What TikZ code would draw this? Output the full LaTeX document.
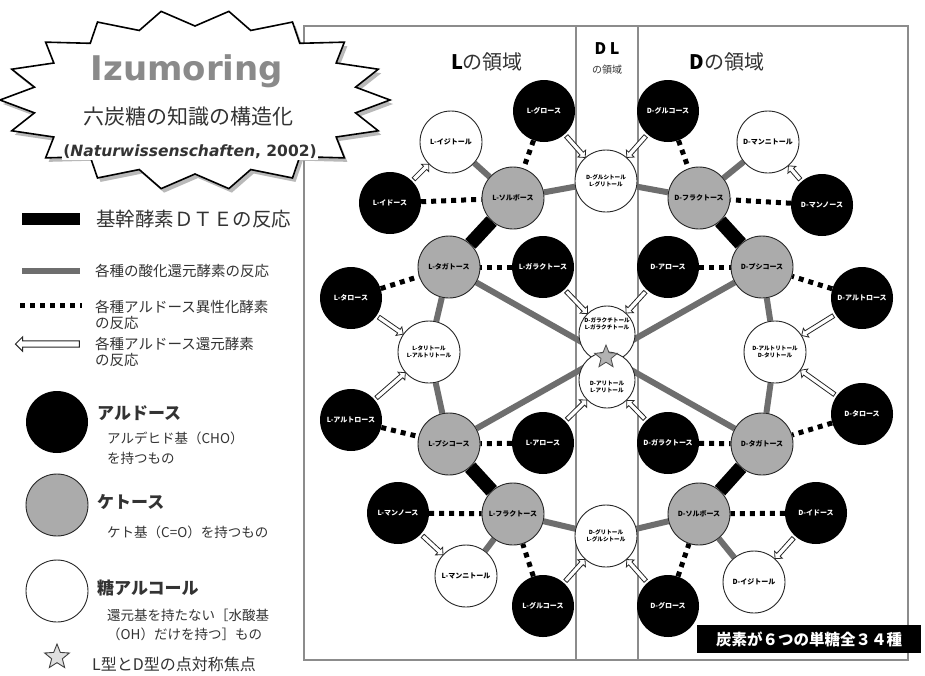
\documentclass[tikz,border=0pt]{standalone}
\usepackage{fontspec}
\setmainfont{Noto Sans CJK JP}
\newfontfamily\dvs{DejaVu Sans}
\usetikzlibrary{shapes.geometric,shapes.arrows,calc}
\pgfdeclarelayer{bg}
\pgfsetlayers{bg,main}
\definecolor{ketgray}{HTML}{ABABAB}
\definecolor{redgray}{HTML}{6E6E6E}
\definecolor{framegray}{HTML}{8C8C8C}
\definecolor{txtgray}{HTML}{333333}
\definecolor{titlegray}{HTML}{8A8A8A}
\tikzset{
 sug/.style={circle, minimum size=62pt, inner sep=0pt, align=center, font=\fontsize{7}{8}\selectfont\bfseries},
 ald/.style={sug, fill=black, text=white},
 ket/.style={sug, fill=ketgray, draw=black!85, line width=0.9pt},
 alc/.style={sug, fill=white, draw=black!85, line width=0.9pt},
 alctwo/.style={alc, font=\fontsize{5.6}{6.6}\selectfont\bfseries},
 alcmid/.style={alctwo, minimum size=56pt},
 dte/.style={line width=14pt, black},
 redox/.style={line width=6pt, redgray},
 iso/.style={line width=5pt, black, dash pattern=on 5pt off 5pt},
 hol/.style={single arrow, draw=black!85, fill=white, line width=0.8pt, inner xsep=0pt, inner ysep=1.8pt, minimum width=10pt, single arrow head extend=3pt},
 legtxt/.style={anchor=west, text=txtgray, inner sep=0pt},
}
\newcommand\holarr[3][31]{%
  \path let \p1=($(#3)-(#2)$), \n1={atan2(\y1,\x1)}, \n2={veclen(\x1,\y1)-31-#1-3} in
    node[hol, rotate=\n1, minimum height=\n2] at ($($(#2)!31pt!(#3)$)!0.5!($(#3)!#1pt!(#2)$)$) {};%
}
\begin{document}
\begin{tikzpicture}[x=1pt,y=-1pt]
\useasboundingbox (0,0) rectangle (925,675);
% ---------- burst title ----------
\begin{scope}[shift={(195,100)}]
\fill[gray!55] ([shift={(3,4)}]0:195 and 90) \foreach \a in {0,20,...,340} { -- ([shift={(3,4)}]\a:195 and 90) -- ([shift={(3,4)}]\a+10:163 and 74) } -- cycle;
\draw[fill=white, line width=1.6pt, line join=miter] (0:195 and 90) \foreach \a in {0,20,...,340} { -- (\a:195 and 90) -- (\a+10:163 and 74) } -- cycle;
\end{scope}
\node[font=\dvs\bfseries\fontsize{34}{36}\selectfont, text=titlegray, inner sep=0pt] (title) at (187,71) {Izumoring};
\node[font=\fontsize{21}{24}\selectfont, text=txtgray, inner sep=0pt] (subtitle) at (188,117) {六炭糖の知識の構造化};
\node[font=\dvs\bfseries\fontsize{15.5}{18}\selectfont, text=txtgray, fill=white, inner sep=1pt] (ref) at (190,152) {(\textit{Naturwissenschaften}, 2002)};
% ---------- headers ----------
\node[font=\fontsize{20}{22}\selectfont, text=txtgray, inner sep=0pt] (hL) at (487,62) {\textbf{\textcolor{black}{L}}の領域};
\node[font=\fontsize{16}{18}\selectfont\bfseries, inner sep=0pt] (hDL) at (607,49) {D L};
\node[font=\fontsize{10}{11}\selectfont, text=txtgray, inner sep=0pt] (hDL2) at (607,70) {の領域};
\node[font=\fontsize{20}{22}\selectfont, text=txtgray, inner sep=0pt] (hD) at (727,62) {\textbf{\textcolor{black}{D}}の領域};
% ---------- legend ----------
\fill[black] (22,213) rectangle (80,225);
\node[legtxt, font=\fontsize{19.5}{22}\selectfont] (lg1) at (96,219) {基幹酵素ＤＴＥの反応};
\draw[redox] (22,271) -- (80,271);
\node[legtxt, font=\fontsize{14.5}{16}\selectfont] (lg2) at (95,271) {各種の酸化還元酵素の反応};
\draw[iso] (20,305) -- (82,305);
\node[legtxt, font=\fontsize{14.5}{16}\selectfont, align=left] (lg3) at (95,315) {各種アルドース異性化酵素\\の反応};
\node[hol, rotate=180, minimum height=64pt, inner ysep=2.6pt, minimum width=14pt, single arrow head extend=4pt, line width=1pt] (lgarrow) at (49,344) {};
\node[legtxt, font=\fontsize{14.5}{16}\selectfont, align=left] (lg4) at (95,352) {各種アルドース還元酵素\\の反応};
\node[ald] (legA) at (57,422) {};
\node[legtxt, font=\fontsize{17}{19}\selectfont\bfseries] (lgA1) at (97,413) {アルドース};
\node[legtxt, font=\fontsize{13.5}{19.5}\selectfont, align=left] (lgA2) at (107,448) {アルデヒド基（CHO）\\を持つもの};
\node[ket] (legK) at (57,505) {};
\node[legtxt, font=\fontsize{17}{19}\selectfont\bfseries] (lgK1) at (97,502) {ケトース};
\node[legtxt, font=\fontsize{13.5}{16}\selectfont] (lgK2) at (107,532) {ケト基（C=O）を持つもの};
\node[alc] (legW) at (57,591) {};
\node[legtxt, font=\fontsize{17}{19}\selectfont\bfseries] (lgW1) at (97,588) {糖アルコール};
\node[legtxt, font=\fontsize{13.5}{19.5}\selectfont, align=left] (lgW2) at (107,625) {還元基を持たない［水酸基\\（OH）だけを持つ］もの};
\node[star, star points=5, star point ratio=2.3, fill=gray!25, draw=black!75, line width=0.9pt, minimum size=26pt, inner sep=0pt] (legS) at (57,657) {};
\node[legtxt, font=\fontsize{16}{18}\selectfont] (lgS) at (92,664) {L型とD型の点対称焦点};
% ---------- ring nodes ----------
\node[ald] (Lgul) at (544,111) {L-グロース};
\node[ald] (Lido) at (390,203) {L-イドース};
\node[ald] (Ltal) at (351,298) {L-タロース};
\node[ald] (Lgal) at (543,267) {L-ガラクトース};
\node[ald] (Lalt) at (351,420) {L-アルトロース};
\node[ald] (Lall) at (543,443) {L-アロース};
\node[ald] (Lman) at (398,513) {L-マンノース};
\node[ald] (Lglc) at (543,606) {L-グルコース};
\node[ald] (Dglc) at (668,111) {D-グルコース};
\node[ald] (Dman) at (822,205) {D-マンノース};
\node[ald] (Dall) at (668,267) {D-アロース};
\node[ald] (Dalt) at (862,298) {D-アルトロース};
\node[ald] (Dtal) at (862,414) {D-タロース};
\node[ald] (Dgal) at (668,443) {D-ガラクトース};
\node[ald] (Dido) at (816,513) {D-イドース};
\node[ald] (Dgul) at (668,606) {D-グロース};
\node[ket] (Lsor) at (513,198) {L-ソルボース};
\node[ket] (Ltag) at (449,267) {L-タガトース};
\node[ket] (Lpsi) at (449,444) {L-プシコース};
\node[ket] (Lfru) at (513,514) {L-フラクトース};
\node[ket] (Dfru) at (699,198) {D-フラクトース};
\node[ket] (Dpsi) at (762,267) {D-プシコース};
\node[ket] (Dtag) at (762,444) {D-タガトース};
\node[ket] (Dsor) at (699,514) {D-ソルボース};
\node[alc] (Lidi) at (451,142) {L-イジトール};
\node[alc] (Dmnt) at (768,142) {D-マンニトール};
\node[alctwo] (Tglc) at (606,181) {D-グルシトール\\L-グリトール};
\node[alctwo] (Ltlt) at (429,352) {L-タリトール\\L-アルトリトール};
\node[alctwo] (Daltl) at (775,352) {D-アルトリトール\\D-タリトール};
\node[alcmid] (Gal) at (607,334) {D-ガラクチトール\\L-ガラクチトール\\[14pt]~};
\node[alcmid] (All) at (607,380) {~\\[12pt]D-アリトール\\L-アリトール};
\node[alctwo] (Bglc) at (606,536) {D-グリトール\\L-グルシトール};
\node[alc] (Lmnt) at (466,576) {L-マンニトール};
\node[alc] (Didi) at (754,582) {D-イジトール};
\node[star, star points=5, star point ratio=2.3, fill=gray!60, draw=black!70, line width=0.8pt, minimum size=24pt, inner sep=0pt] (cstar) at (606,357) {};
\node[fill=black, text=white, font=\fontsize{15.5}{17}\selectfont\bfseries, minimum width=224pt, minimum height=28pt, inner sep=0pt] (count) at (809,639) {炭素が６つの単糖全３４種};
% ---------- background: frame and connectors ----------
\begin{pgfonlayer}{bg}
\fill[white] (0,0) rectangle (925,675);
\draw[framegray, line width=1.2pt] (304,26) rectangle (908,660);
\draw[framegray, line width=1.2pt] (576,26) -- (576,660);
\draw[framegray, line width=1.2pt] (638,26) -- (638,660);
% DTE
\draw[dte] (Lsor) -- (Ltag);
\draw[dte] (Dfru) -- (Dpsi);
\draw[dte] (Lpsi) -- (Lfru);
\draw[dte] (Dtag) -- (Dsor);
% redox
\foreach \a/\b in {Lsor/Lidi, Lsor/Tglc, Dfru/Tglc, Dfru/Dmnt, Ltag/Ltlt, Lpsi/Ltlt, Dpsi/Daltl, Dtag/Daltl, Ltag/Dtag, Dpsi/Lpsi, Lfru/Lmnt, Lfru/Bglc, Dsor/Bglc, Dsor/Didi}
  \draw[redox] (\a) -- (\b);
% isomerase
\foreach \a/\b in {Lgul/Lsor, Lido/Lsor, Dglc/Dfru, Dman/Dfru, Ltal/Ltag, Lgal/Ltag, Dall/Dpsi, Dalt/Dpsi, Lalt/Lpsi, Lall/Lpsi, Dgal/Dtag, Dtal/Dtag, Lman/Lfru, Lglc/Lfru, Dido/Dsor, Dgul/Dsor}
  \draw[iso] (\a) -- (\b);
% reductase
\holarr{Lido}{Lidi}
\holarr{Lgul}{Tglc}
\holarr{Dglc}{Tglc}
\holarr{Dman}{Dmnt}
\holarr{Ltal}{Ltlt}
\holarr{Lalt}{Ltlt}
\holarr{Dalt}{Daltl}
\holarr{Dtal}{Daltl}
\holarr[28]{Lgal}{Gal}
\holarr[28]{Dall}{Gal}
\holarr[28]{Lall}{All}
\holarr[28]{Dgal}{All}
\holarr{Lglc}{Bglc}
\holarr{Dgul}{Bglc}
\holarr{Lman}{Lmnt}
\holarr{Dido}{Didi}
\end{pgfonlayer}
\end{tikzpicture}
\end{document}
